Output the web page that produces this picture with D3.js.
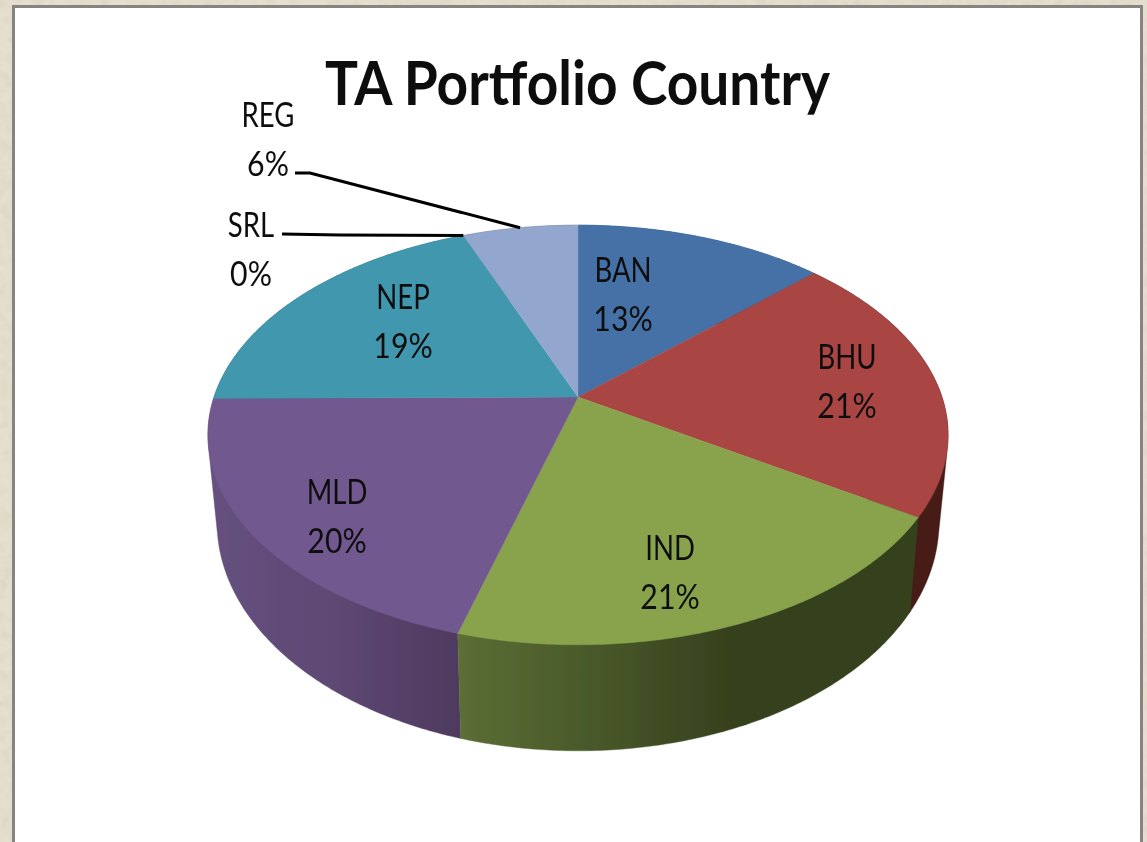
<!DOCTYPE html>
<html><head><meta charset="utf-8">
<script src="https://cdn.jsdelivr.net/npm/d3@7"></script>
<style>html,body{margin:0;padding:0;background:#e4dccb}svg{display:block}text{font-family:Lato,"Open Sans",sans-serif;fill:#111}</style>
</head><body><svg id="c" width="1147" height="842"></svg>
<script>
const categories=["BAN","BHU","IND","MLD","NEP","SRL","REG"];
const shares=[13,21,20.4,20.49,19.11,0,6];
const percentLabels=["13%","21%","21%","20%","19%","0%","6%"];
const topColors=["#4571a7","#a94543","#89a34e","#71588f","#4097ae","#4a7ebb","#93a6cd"];
const title="TA Portfolio Country";

const W=1147,H=842,svg=d3.select("#c");
const defs=svg.append("defs");

// paper backdrop + framed panel
const tex=defs.append("filter").attr("id","paper").attr("x",0).attr("y",0).attr("width","100%").attr("height","100%");
tex.append("feTurbulence").attr("type","fractalNoise").attr("baseFrequency","0.09").attr("numOctaves",3).attr("seed",4);
tex.append("feColorMatrix").attr("values","0 0 0 0 0.66  0 0 0 0 0.60  0 0 0 0 0.48  0.9 0 0 0 -0.32");
const soft=defs.append("filter").attr("id","soft").attr("x","-5%").attr("y","-5%").attr("width","110%").attr("height","110%");
soft.append("feGaussianBlur").attr("stdDeviation",0.7);
svg.append("rect").attr("width",W).attr("height",H).attr("fill","#e6dfcf");
svg.append("rect").attr("width",W).attr("height",H).attr("filter","url(#paper)");
svg.append("rect").attr("x",13.5).attr("y",6.5).attr("width",1128).attr("height",H).attr("fill","#fff").attr("stroke","#85857f").attr("stroke-width",3);

// perspective projection of the pie's disc on to the page
const k=0.181;
const topFace={x:578,y:397,a:364,b:203}, baseFace={x:578,y:481,a:355,b:221};
const project=(t,f)=>{const u=Math.sin(t),v=-Math.cos(t),w=1-k*v;return [f.x+f.a*u/w,f.y+f.b*v/w];};
const arcPts=(a0,a1,f)=>{const n=Math.max(2,Math.ceil((a1-a0)/0.01));return d3.range(n+1).map(i=>project(a0+(a1-a0)*i/n,f));};
const line=d3.line();

const arcs=d3.pie().sort(null).value(d=>d)(shares);

// rim gradients
const grad=(id,x1,x2,stops)=>{const g=defs.append("linearGradient").attr("id",id).attr("gradientUnits","userSpaceOnUse").attr("x1",x1).attr("x2",x2).attr("y1",0).attr("y2",0);
  stops.forEach(([o,c])=>g.append("stop").attr("offset",o).attr("stop-color",c));};
grad("rimIND",457,740,[[0,"#5c6e35"],[0.45,"#4a5a2a"],[1,"#353f1d"]]);
grad("rimMLD",208,460,[[0,"#66517f"],[0.5,"#5d4873"],[1,"#4e3a5f"]]);
const rimFill=["#2f4a6e","#461b19","url(#rimIND)","url(#rimMLD)","#2a6272","#2a6272","#5f6c88"];

const chart=svg.append("g").attr("filter","url(#soft)");
// rim: hull of each slice's top and base arcs, back to front, then top faces
const order=[0,6,4,1,3,2];
order.forEach(i=>{const d=arcs[i];
  const pts=arcPts(d.startAngle,d.endAngle,topFace).concat(arcPts(d.startAngle,d.endAngle,baseFace));
  chart.append("path").attr("d",line(d3.polygonHull(pts))+"Z").attr("fill",rimFill[i]).attr("stroke",rimFill[i]).attr("stroke-width",0.4);
});
arcs.forEach((d,i)=>{ if(d.value===0) return;
  const pts=[[topFace.x,topFace.y]].concat(arcPts(d.startAngle,d.endAngle,topFace));
  chart.append("path").attr("d",line(pts)+"Z").attr("fill",topColors[i]).attr("stroke",topColors[i]).attr("stroke-width",0.4);
});

// leader lines
const leader=(i,start)=>{const d=arcs[i];const end=project((d.startAngle+d.endAngle)/2,topFace);
  chart.append("path").attr("d",line(start.concat([end]))).attr("fill","none").attr("stroke","#050505").attr("stroke-width",3);};
leader(6,[[295,173],[310,173]]);
leader(5,[[282,234],[340,235]]);

// labels
const labelAnchor={BAN:[623,282],BHU:[847,369],IND:[670,560],MLD:[337,504],NEP:[403,309],REG:[268,127],SRL:[251,237]};
const txt=chart.append("g");
categories.forEach((c,i)=>{const [x,y]=labelAnchor[c];
  txt.append("text").attr("text-anchor","middle").attr("font-size",34)
    .attr("transform",`translate(${x},${y}) scale(.81,1)`).text(c);
  txt.append("text").attr("text-anchor","middle").attr("font-size",34)
    .attr("transform",`translate(${x},${y+49}) scale(.89,1)`).text(percentLabels[i]);
});
chart.append("text").attr("x",325).attr("y",105).attr("font-size",62).attr("font-weight",700)
  .attr("textLength",505).attr("lengthAdjust","spacingAndGlyphs").text(title);
</script></body></html>
